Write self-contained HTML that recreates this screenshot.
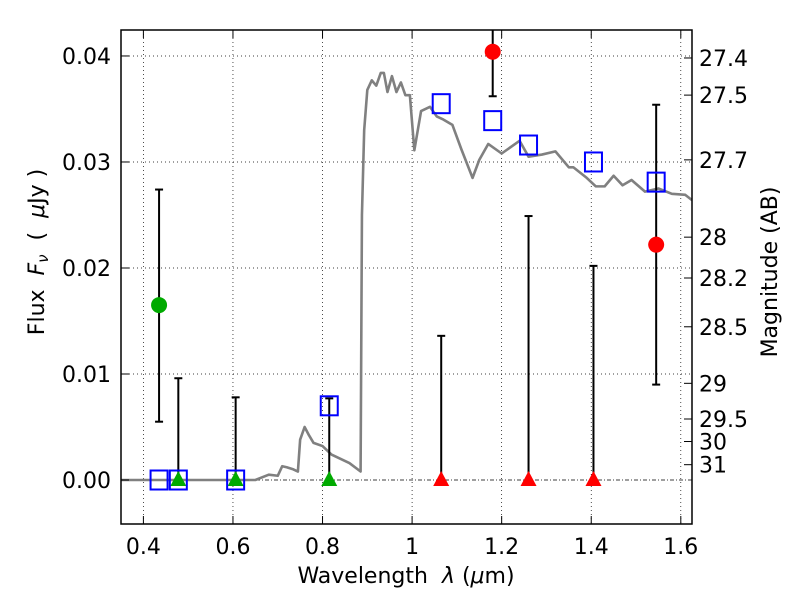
<!DOCTYPE html>
<html><head><meta charset="utf-8"><style>
body{margin:0;background:#fff;}
svg{font-family:"DejaVu Sans","Liberation Sans",sans-serif;}
</style></head><body>
<svg id="c" width="800" height="600" xmlns="http://www.w3.org/2000/svg"></svg>
<script>
const specX=[0.35,0.65,0.68,0.70,0.71,0.72,0.735,0.745,0.75,0.76,0.77,0.78,0.80,0.82,0.84,0.86,0.885,0.888,0.893,0.90,0.91,0.92,0.93,0.937,0.945,0.955,0.965,0.975,0.985,0.995,1.005,1.02,1.04,1.055,1.07,1.09,1.11,1.135,1.15,1.17,1.2,1.24,1.26,1.29,1.32,1.35,1.36,1.39,1.41,1.43,1.45,1.47,1.49,1.52,1.55,1.58,1.61,1.625];
const specY=[0,0,0.0005,0.0004,0.0013,0.0012,0.001,0.0008,0.0038,0.005,0.0042,0.0035,0.0032,0.0024,0.002,0.0016,0.0008,0.025,0.033,0.0368,0.0377,0.0372,0.0384,0.0384,0.0366,0.0381,0.0366,0.0375,0.0363,0.0363,0.0311,0.0348,0.0352,0.0343,0.034,0.0335,0.0312,0.0285,0.0302,0.0317,0.0308,0.032,0.0305,0.0307,0.031,0.0295,0.0295,0.0285,0.0277,0.0277,0.0287,0.0278,0.0283,0.0272,0.0275,0.027,0.0269,0.0264];
const sqX=[0.435,0.478,0.606,0.815,1.065,1.18,1.26,1.405,1.545];
const sqY=[0,0,0,0.007,0.0355,0.0339,0.0316,0.0300,0.0281];
const gcX=[0.435],gcY=[0.0165],gcLo=[0.0055],gcHi=[0.0274];
const gtX=[0.478,0.606,0.815],gtHi=[0.0096,0.0078,0.0077];
const rtX=[1.065,1.26,1.405],rtHi=[0.0136,0.0249,0.0202];
const rcX=[1.18,1.545],rcY=[0.0404,0.0222],rcLo=[0.0362,0.009],rcHi=[0.05,0.0354];
const xTicks=[0.4,0.6,0.8,1.0,1.2,1.4,1.6],xLabels=["0.4","0.6","0.8","1","1.2","1.4","1.6"];
const yTicks=[0,0.01,0.02,0.03,0.04],yLabels=["0.00","0.01","0.02","0.03","0.04"];
const magTicks=[27.4,27.5,27.7,28,28.2,28.5,29,29.5,30,31];

const L=121,R=692,T=30,B=524,x0=0.35,x1=1.625,y0=-0.00415,y1=0.04245;
const sx=v=>L+(v-x0)/(x1-x0)*(R-L), sy=v=>B-(v-y0)/(y1-y0)*(B-T);
const svg=document.getElementById('c');const NS='http://www.w3.org/2000/svg';
function mk(t,a,p){const e=document.createElementNS(NS,t);for(const k in a)e.setAttribute(k,a[k]);(p||svg).appendChild(e);return e;}
const clip=mk('clipPath',{id:'cp'});mk('rect',{x:L,y:T,width:R-L,height:B-T},clip);
const g=mk('g',{'clip-path':'url(#cp)'});
xTicks.forEach(v=>{const e=mk('line',{x1:sx(v),x2:sx(v),y1:T,y2:B,stroke:'#000','stroke-width':0.7,'stroke-dasharray':'1,3'},g);
});
yTicks.forEach(v=>{if(v===0)return;const e=mk('line',{x1:L,x2:R,y1:sy(v),y2:sy(v),stroke:'#000','stroke-width':0.7,'stroke-dasharray':'1,3'},g);
});
const zl=mk('line',{x1:L,x2:R,y1:sy(0),y2:sy(0),stroke:'#000','stroke-width':0.8,'stroke-dasharray':'4,2,1,2'},g);

const sp=mk('polyline',{points:specX.map((x,i)=>sx(x)+','+sy(specY[i])).join(' '),fill:'none',stroke:'#808080','stroke-width':2.6,'stroke-linejoin':'round'},g);

function ebar(x,lo,hi,name){const e=mk('g',{},g);
mk('line',{x1:sx(x),x2:sx(x),y1:sy(lo),y2:sy(hi),stroke:'#000','stroke-width':2},e);
mk('line',{x1:sx(x)-4,x2:sx(x)+4,y1:sy(hi),y2:sy(hi),stroke:'#000','stroke-width':2},e);
if(lo>0)mk('line',{x1:sx(x)-4,x2:sx(x)+4,y1:sy(lo),y2:sy(lo),stroke:'#000','stroke-width':2},e);}
gcX.forEach((x,i)=>ebar(x,gcLo[i],gcHi[i],'green-errorbar'));
gtX.forEach((x,i)=>ebar(x,0,gtHi[i],'green-limit-errorbar'));
rtX.forEach((x,i)=>ebar(x,0,rtHi[i],'red-limit-errorbar'));
rcX.forEach((x,i)=>ebar(x,rcLo[i],rcHi[i],'red-errorbar'));
function tri(x,c,name){const cx=sx(x),cy=sy(0);const e=mk('polygon',{points:`${cx},${cy-9} ${cx-8},${cy+6} ${cx+8},${cy+6}`,fill:c},g);
}
gtX.forEach(x=>tri(x,'#00aa00','green-triangle'));
rtX.forEach(x=>tri(x,'#ff0000','red-triangle'));
gcX.forEach((x,i)=>{const e=mk('circle',{cx:sx(x),cy:sy(gcY[i]),r:8,fill:'#00aa00'},g);});
rcX.forEach((x,i)=>{const e=mk('circle',{cx:sx(x),cy:sy(rcY[i]),r:8,fill:'#ff0000'},g);});
sqX.forEach((x,i)=>{const e=mk('rect',{x:sx(x)-8.5,y:sy(sqY[i])-9.5,width:17,height:19,fill:'none',stroke:'#0000ff','stroke-width':2},g);
});
const fr=mk('rect',{x:L,y:T,width:R-L,height:B-T,fill:'none',stroke:'#000','stroke-width':1.5});

xTicks.forEach((v,i)=>{mk('line',{x1:sx(v),x2:sx(v),y1:B,y2:B-8,stroke:'#000'});mk('line',{x1:sx(v),x2:sx(v),y1:T,y2:T+8,stroke:'#000'});
const t=mk('text',{x:sx(v),y:B+30,'font-size':22,'text-anchor':'middle'});t.textContent=xLabels[i];
});
yTicks.forEach((v,i)=>{mk('line',{x1:L,x2:L+8,y1:sy(v),y2:sy(v),stroke:'#000'});
const t=mk('text',{x:L-10,y:sy(v)+8,'font-size':22,'text-anchor':'end'});t.textContent=yLabels[i];
});
magTicks.forEach(m=>{const f=Math.pow(10,(23.9-m)/2.5);const y=sy(f);mk('line',{x1:R,x2:R-8,y1:y,y2:y,stroke:'#000'});
const t=mk('text',{x:R+7,y:y+8,'font-size':22});t.textContent=String(m);
});
</script>
<svg width="800" height="600" style="position:absolute;left:0;top:0">
<text x="406" y="583" font-size="22" text-anchor="middle" font-family="DejaVu Sans,sans-serif" xml:space="preserve">Wavelength  <tspan font-style="italic">λ</tspan> (<tspan font-style="italic">μ</tspan>m)</text>
<text transform="translate(44,252) rotate(-90)" font-size="22" text-anchor="middle" font-family="DejaVu Sans,sans-serif" xml:space="preserve">Flux  <tspan font-style="italic">F</tspan><tspan font-style="italic" font-size="15" dy="4">ν</tspan><tspan dy="-4">  (  </tspan><tspan font-style="italic">μ</tspan>Jy )</text>
<text transform="translate(777,272) rotate(-90)" font-size="22" text-anchor="middle" font-family="DejaVu Sans,sans-serif">Magnitude (AB)</text>
</svg>
</body></html>
